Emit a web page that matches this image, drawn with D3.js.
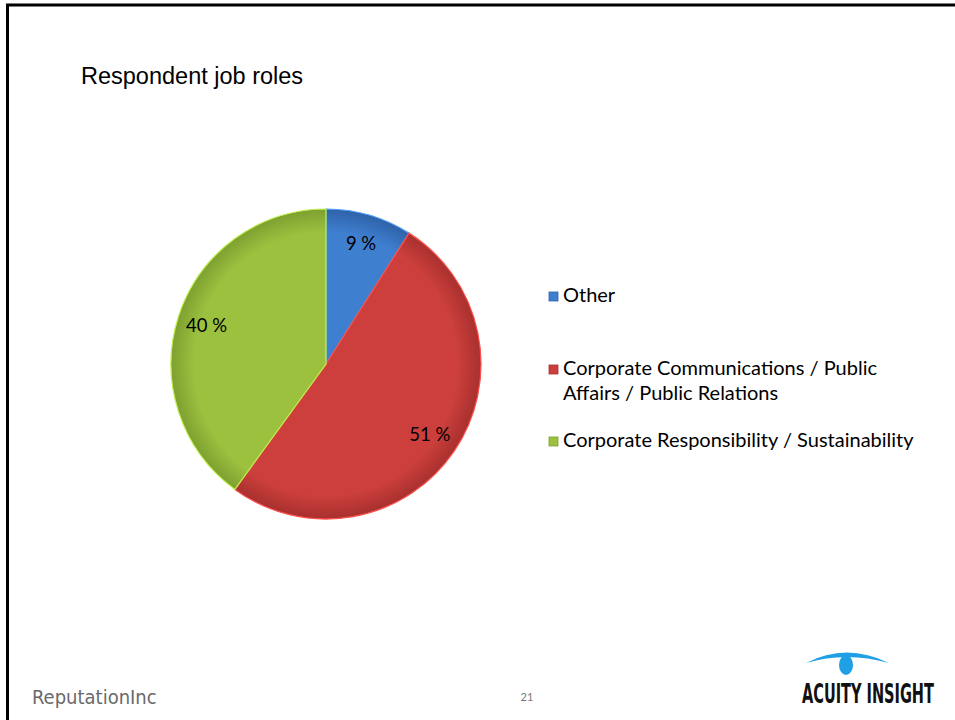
<!DOCTYPE html>
<html>
<head>
<meta charset="utf-8">
<script src="https://cdn.jsdelivr.net/npm/d3@7"></script>
<style>
  body { margin: 0; background: #fff; }
  svg { display: block; }
</style>
</head>
<body>
<svg id="chart" width="955" height="720"></svg>
<script>
// data
const categories = ['Other', 'Corporate Communications / Public Affairs / Public Relations', 'Corporate Responsibility / Sustainability'];
const values = [9, 51, 40];
const legendLines = [['Other'], ['Corporate Communications / Public', 'Affairs / Public Relations'], ['Corporate Responsibility / Sustainability']];
const colors = ['#3f7fd0', '#cc3f3c', '#9cc13f'];
const darkColors = ['#2e62a8', '#a8302e', '#7ea030'];

const svg = d3.select('#chart');
const font = 'Lato, "Open Sans", sans-serif';

// slide frame (top + left edges)
svg.append('line').attr('x1', 7.5).attr('y1', 5).attr('x2', 7.5).attr('y2', 720)
    .attr('stroke', '#000').attr('stroke-width', 3);
svg.append('line').attr('x1', 6).attr('y1', 5).attr('x2', 955).attr('y2', 5)
    .attr('stroke', '#000').attr('stroke-width', 3);

// title
svg.append('text').attr('x', 81).attr('y', 84)
    .attr('font-family', '"Liberation Sans", Arial, sans-serif')
    .attr('font-size', 23.5).attr('fill', '#000')
    .text('Respondent job roles');

// gradients for slight 3d look
const defs = svg.append('defs');
colors.forEach((c, i) => {
    const g = defs.append('radialGradient').attr('id', 'grad' + i)
        .attr('gradientUnits', 'userSpaceOnUse')
        .attr('cx', 0).attr('cy', 0).attr('r', 155);
    g.append('stop').attr('offset', '0%').attr('stop-color', c);
    g.append('stop').attr('offset', '85%').attr('stop-color', c);
    g.append('stop').attr('offset', '100%').attr('stop-color', darkColors[i]);
});

const cx = 326, cy = 364, radius = 155;
const pie = d3.pie().sort(null).value(d => d);
const arcs = pie(values);
const arc = d3.arc().innerRadius(0).outerRadius(radius);

const g = svg.append('g').attr('transform', `translate(${cx},${cy})`);

g.selectAll('path.slice')
    .data(arcs)
    .enter().append('path')
    .attr('class', 'slice')
    .attr('d', arc)
    .attr('fill', (d, i) => `url(#grad${i})`)
    .attr('stroke', (d, i) => d3.color(colors[i]).brighter(0.6))
    .attr('stroke-width', 1.2);

// labels
const labelArc = d3.arc().innerRadius(radius * 0.81).outerRadius(radius * 0.81);
g.selectAll('text.lbl')
    .data(arcs)
    .enter().append('text')
    .attr('class', 'lbl')
    .attr('transform', d => `translate(${labelArc.centroid(d)})`)
    .attr('text-anchor', 'middle')
    .attr('dy', '0.35em')
    .attr('font-family', font)
    .attr('font-size', 18.5)
    .attr('fill', '#000')
    .text(d => d.data + ' %');

// legend
const legendY = [302, 375, 447];
const legend = svg.append('g');
legendLines.forEach((lines, i) => {
    const y = legendY[i];
    legend.append('rect').attr('x', 549).attr('y', y - 10).attr('width', 9).attr('height', 9)
        .attr('fill', colors[i]).attr('stroke', darkColors[i]).attr('stroke-width', 0.8);
    lines.forEach((t, j) => {
        legend.append('text').attr('x', 563).attr('y', y + j * 25)
            .attr('font-family', font).attr('font-size', 20).attr('fill', '#000')
            .text(t);
    });
});

// footer
svg.append('text').attr('x', 32).attr('y', 704)
    .attr('font-family', '"DejaVu Sans Condensed", "Liberation Sans Narrow", sans-serif')
    .attr('font-size', 20).attr('fill', '#6a6a6a')
    .text('ReputationInc');
svg.append('text').attr('x', 527).attr('y', 701).attr('text-anchor', 'middle')
    .attr('font-family', font).attr('font-size', 11).attr('fill', '#777')
    .text('21');

// acuity logo
const logo = svg.append('g');
logo.append('path').attr('d', 'M806,663 Q846,642 889,663 Q846,651 806,663 Z')
    .attr('fill', '#1fa0e6');
logo.append('ellipse').attr('cx', 846).attr('cy', 665).attr('rx', 7).attr('ry', 10)
    .attr('fill', '#1fa0e6');
const logoText = logo.append('text')
    .attr('font-family', '"Liberation Sans Narrow", "DejaVu Sans Condensed", sans-serif')
    .attr('font-weight', 'bold').attr('font-size', 26).attr('fill', '#111')
    .text('ACUITY INSIGHT');
// squeeze the word mark to fit the logo width
const natural = logoText.node().getComputedTextLength();
logoText.attr('transform', `translate(802,703) scale(${132 / natural},1)`);
</script>
</body>
</html>
